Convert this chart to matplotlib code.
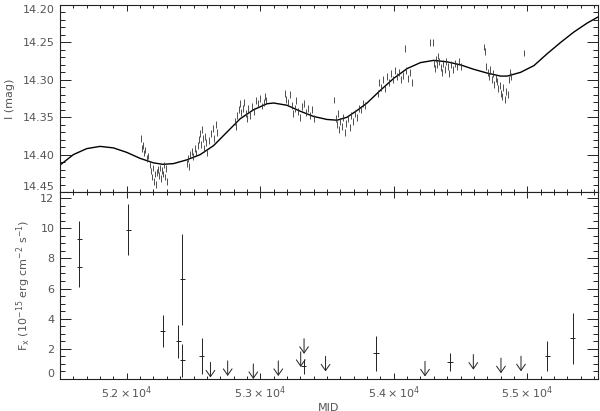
import numpy as np
import matplotlib
matplotlib.use("Agg")
import matplotlib.pyplot as plt
from matplotlib.ticker import MultipleLocator, FormatStrFormatter, FuncFormatter

plt.rcParams['font.family'] = ['DejaVu Sans']
plt.rcParams['mathtext.default'] = 'regular'

# %% model curve (I band)
curve_mjd = [51500, 51600, 51700, 51800, 51900, 52000, 52100, 52200, 52270, 52350,
             52450, 52550, 52650, 52750, 52850, 52950, 53050, 53100, 53200, 53300,
             53400, 53500, 53575, 53650, 53725, 53800, 53900, 54000, 54100, 54200,
             54300, 54400, 54500, 54600, 54700, 54800, 54850, 54950, 55050, 55150,
             55250, 55350, 55450, 55530]
curve_mag = [14.414, 14.400, 14.392, 14.389, 14.391, 14.397, 14.405, 14.411, 14.413, 14.412,
             14.407, 14.400, 14.388, 14.370, 14.352, 14.340, 14.332, 14.331, 14.334, 14.342,
             14.349, 14.353, 14.354, 14.350, 14.341, 14.331, 14.314, 14.298, 14.285, 14.277,
             14.274, 14.276, 14.280, 14.286, 14.291, 14.295, 14.295, 14.290, 14.281, 14.265,
             14.250, 14.236, 14.224, 14.216]

# %% OGLE-like photometry, season by season
phot_mjd = [
    52107, 52114, 52122, 52129, 52137, 52152, 52159, 52174, 52182, 52189, 52197, 52204, 52212,
    52219, 52227, 52234, 52242, 52249, 52257, 52264, 52272, 52279, 52287, 52294, 52302,
    52451, 52459, 52466, 52474, 52489, 52496, 52511, 52519, 52534, 52541, 52549, 52556, 52564,
    52571, 52579, 52586, 52594, 52601, 52616, 52631, 52646, 52654, 52669, 52676,
    52811, 52818, 52826, 52841, 52848, 52856, 52871, 52878, 52893, 52901, 52908, 52923, 52938,
    52953, 52968, 52983, 52998, 53013, 53028, 53036, 53043,
    53185, 53193, 53208, 53223, 53238, 53245, 53260, 53268, 53283, 53298, 53313, 53328, 53343,
    53358, 53373, 53388, 53403,
    53552, 53568, 53575, 53583, 53590, 53597, 53612, 53620, 53635, 53642, 53657, 53672, 53680,
    53695, 53710, 53725, 53740, 53755, 53770, 53785,
    53882, 53890, 53905, 53920, 53935, 53950, 53964, 53979, 53994, 54009, 54024, 54039, 54054,
    54069, 54084, 54092, 54107, 54122, 54137,
    54271, 54294, 54301, 54309, 54316, 54324, 54331, 54339, 54354, 54361, 54369, 54384, 54391,
    54406, 54414, 54429, 54444, 54459, 54474, 54489, 54504,
    54676, 54683, 54691, 54706, 54713, 54721, 54736, 54743, 54751, 54766, 54773, 54781, 54796,
    54803, 54811, 54818, 54833, 54841, 54856, 54863, 54871, 54878,
    54976]
phot_mag = [
    14.378, 14.392, 14.388, 14.398, 14.394, 14.405, 14.402, 14.414, 14.422, 14.430, 14.418, 14.436, 14.426,
    14.440, 14.424, 14.420, 14.428, 14.418, 14.432, 14.421, 14.426, 14.414, 14.430, 14.419, 14.436,
    14.412, 14.405, 14.416, 14.400, 14.396, 14.403, 14.392, 14.398, 14.388, 14.380, 14.372, 14.386, 14.366,
    14.378, 14.392, 14.376, 14.384, 14.398, 14.381, 14.372, 14.365, 14.378, 14.360, 14.370,
    14.356, 14.362, 14.348, 14.340, 14.332, 14.344, 14.338, 14.330, 14.345, 14.352, 14.338, 14.348, 14.336,
    14.342, 14.328, 14.332, 14.325, 14.335, 14.330, 14.322, 14.328,
    14.318, 14.326, 14.330, 14.320, 14.334, 14.345, 14.338, 14.328, 14.342, 14.350, 14.336, 14.332, 14.344,
    14.338, 14.348, 14.340, 14.352,
    14.327, 14.352, 14.360, 14.345, 14.366, 14.356, 14.362, 14.350, 14.370, 14.358, 14.352, 14.364, 14.348,
    14.356, 14.345, 14.350, 14.338, 14.340, 14.332, 14.334,
    14.318, 14.304, 14.310, 14.300, 14.312, 14.296, 14.304, 14.292, 14.300, 14.288, 14.296, 14.290, 14.300,
    14.294, 14.258, 14.288, 14.298, 14.290, 14.304,
    14.250, 14.250, 14.278, 14.285, 14.272, 14.280, 14.268, 14.276, 14.284, 14.290, 14.278, 14.286, 14.276,
    14.282, 14.292, 14.280, 14.286, 14.278, 14.283, 14.276, 14.282,
    14.256, 14.262, 14.282, 14.290, 14.296, 14.286, 14.300, 14.292, 14.306, 14.298, 14.302, 14.312, 14.308,
    14.318, 14.322, 14.310, 14.326, 14.316, 14.320, 14.300, 14.290, 14.296,
    14.264]
phot_err = 0.0045

# %% X-ray fluxes (detections) and upper limits
det_mjd = [51645, 51645, 52012, 52269, 52386, 52416, 52416, 52561, 53324, 53867, 54421, 55150, 55340]
det_flux = [9.3, 7.4, 9.9, 3.2, 2.5, 6.6, 1.25, 1.5, 0.84, 1.7, 1.15, 1.5, 2.7]
det_err = [1.2, 1.3, 1.7, 1.05, 1.1, 3.0, 1.1, 1.2, 0.5, 1.15, 0.6, 1.0, 1.7]
det_xerr = 20

ul_mjd = [52627, 52756, 52948, 53135, 53303, 53328, 53318, 53489, 53692, 54064, 54234, 54596, 54803, 54953]
ul_flux = [1.1, 1.2, 1.0, 1.2, 1.8, 2.67, 0.8, 1.5, 0.78, 0.95, 1.17, 1.62, 1.38, 1.51]
ul_len = 1.0

# %% plotting
txt = '#555555'
ink = '#222222'

fig = plt.figure(figsize=(6, 4.11), dpi=100)
ax1 = fig.add_axes([0.1, 0.5328, 0.8967, 0.4550])
ax2 = fig.add_axes([0.1, 0.0779, 0.8967, 0.4549])

ax1.plot(curve_mjd, curve_mag, color='black', lw=1.0)
ax1.errorbar(phot_mjd, phot_mag, yerr=phot_err, fmt='none', ecolor='#333333', elinewidth=0.6)

ax2.errorbar(det_mjd, det_flux, yerr=det_err, xerr=det_xerr, fmt='none', ecolor=ink, elinewidth=0.7)
for x, f in zip(ul_mjd, ul_flux):
    ax2.annotate('', xy=(x, f - ul_len), xytext=(x, f),
                 arrowprops=dict(arrowstyle='->,head_length=0.5,head_width=0.35', lw=0.7,
                                 color=ink, shrinkA=0, shrinkB=0, mutation_scale=9))

for ax in (ax1, ax2):
    ax.set_xlim(51500, 55530)
    ax.xaxis.set_major_locator(MultipleLocator(1000))
    ax.xaxis.set_minor_locator(MultipleLocator(100))
    ax.tick_params(axis='both', which='both', direction='in', top=True, right=True,
                   colors=ink, labelcolor=txt, labelsize=8, width=0.7)
    ax.tick_params(axis='y', which='major', length=7.8, pad=4)
    ax.tick_params(axis='y', which='minor', length=3.9)
    ax.tick_params(axis='x', which='major', length=4.5, pad=4)
    ax.tick_params(axis='x', which='minor', length=2.5)
    for s in ax.spines.values():
        s.set_color(ink)
        s.set_linewidth(0.8)

ax1.set_ylim(14.45, 14.20)
ax1.yaxis.set_major_locator(MultipleLocator(0.05))
ax1.yaxis.set_minor_locator(MultipleLocator(0.01))
ax1.yaxis.set_major_formatter(FormatStrFormatter('%.2f'))
ax1.tick_params(axis='x', labelbottom=False)
ax1.set_ylabel('I (mag)', color=txt, fontsize=8)
ax1.yaxis.set_label_coords(-0.084, 0.5)

ax2.set_ylim(0, 12.4)
ax2.yaxis.set_major_locator(MultipleLocator(2))
ax2.yaxis.set_minor_locator(MultipleLocator(0.5))
ax2.xaxis.set_major_formatter(FuncFormatter(lambda v, p: r'$%.1f\times10^{4}$' % (v / 1e4)))
ax2.set_ylabel(r'F$_x$ (10$^{-15}$ erg cm$^{-2}$ s$^{-1}$)', color=txt, fontsize=8)
ax2.yaxis.set_label_coords(-0.050, 0.5)
ax2.set_xlabel('MJD', color=txt, fontsize=8, labelpad=1)

# keep the end labels inside their own panel, like the original
fig.canvas.draw()
for t in ax1.yaxis.get_major_ticks():
    if abs(t.get_loc() - 14.45) < 1e-6:
        t.label1.set_va('bottom')
    elif abs(t.get_loc() - 14.20) < 1e-6:
        t.label1.set_va('top')
for t in ax2.yaxis.get_major_ticks():
    if abs(t.get_loc()) < 1e-6:
        t.label1.set_va('bottom')

fig.savefig('out.png', dpi=100)
print("done")
